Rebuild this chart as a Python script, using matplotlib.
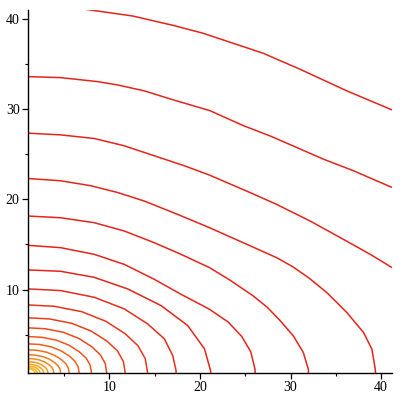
import matplotlib
matplotlib.use("Agg")
import matplotlib.pyplot as plt
from matplotlib.ticker import MultipleLocator

# contour lines, outermost first: (x list, y list)
curve_a_x = [7.42, 12.58, 17.01, 20.34, 23.66, 26.98, 31.04, 36.22, 41.2]
curve_a_y = [41.07, 40.33, 39.30, 38.42, 37.31, 36.20, 34.43, 32.03, 29.92]

curve_b_x = [1, 4.61, 8.67, 10.89, 13.85, 16.79, 21.08, 24.77, 27.72, 30.68, 33.62, 36.95, 41.2]
curve_b_y = [33.61, 33.50, 33.06, 32.69, 32.03, 31.11, 29.84, 28.18, 27.04, 25.75, 24.46, 23.17, 21.32]

curve_c_x = [1, 4.61, 8.31, 11.63, 14.95, 18.28, 21.04, 25.51, 28.46, 32.15, 35.84, 38.80, 41.2]
curve_c_y = [27.34, 27.15, 26.75, 25.94, 24.83, 23.72, 22.69, 20.76, 19.44, 17.60, 15.56, 13.90, 12.43]

curve_d_x = [1, 4.61, 7.93, 10.89, 13.85, 17.53, 21.04, 24.77, 28.46, 30.2, 32.0, 34.0, 36.22, 38.06, 38.98, 39.35, 39.38]
curve_d_y = [22.31, 22.06, 21.51, 20.76, 19.81, 18.33, 16.86, 15.19, 13.53, 12.55, 11.3, 9.66, 7.44, 5.23, 3.38, 1.16, 0.74]

curve_e_x = [1, 4.61, 8.31, 11.63, 14.95, 17.9, 21.04, 23.29, 25.87, 27.4, 28.8, 30.3, 31.41, 31.96, 31.98]
curve_e_y = [18.15, 17.96, 17.41, 16.49, 15.19, 13.9, 12.43, 11.05, 9.29, 8.05, 6.6, 4.86, 3.01, 1.16, 0.74]

curve_f_x = [1, 4.61, 8.31, 11.63, 14.95, 17.9, 21.04, 23.1, 24.6, 25.6, 26.07, 26.08]
curve_f_y = [14.9, 14.64, 13.9, 12.79, 11.13, 9.47, 7.81, 6.4, 4.8, 3.1, 1.16, 0.74]

curve_g_x = [1, 4.61, 8.31, 12.0, 15.69, 18.64, 20.49, 21.16, 21.18]
curve_g_y = [12.17, 12.02, 11.35, 10.07, 8.22, 6.0, 3.42, 1.02, 0.74]

curve_h_x = [1, 4.61, 8.31, 11.63, 14.21, 16.06, 16.98, 17.35, 17.36]
curve_h_y = [10.07, 9.88, 9.14, 7.85, 6.19, 4.53, 2.68, 1.02, 0.74]

curve_i_x = [1, 3.91, 6.94, 9.59, 11.70, 13.15, 13.95, 14.21]
curve_i_y = [8.29, 8.14, 7.54, 6.48, 5.12, 3.76, 2.33, 0.74]

curve_j_x = [1, 3.36, 5.83, 7.98, 9.70, 10.88, 11.53, 11.74]
curve_j_y = [6.86, 6.74, 6.25, 5.39, 4.29, 3.19, 2.03, 0.74]

curve_k_x = [1, 2.91, 4.92, 6.66, 8.05, 9.0, 9.53, 9.7]
curve_k_y = [5.75, 5.65, 5.25, 4.55, 3.65, 2.74, 1.79, 0.74]

curve_l_x = [1, 2.54, 4.15, 5.56, 6.68, 7.45, 7.87, 8.01]
curve_l_y = [4.78, 4.70, 4.38, 3.81, 3.08, 2.36, 1.59, 0.74]

curve_m_x = [1, 2.24, 3.54, 4.67, 5.58, 6.20, 6.54, 6.65]
curve_m_y = [3.97, 3.91, 3.65, 3.19, 2.61, 2.03, 1.42, 0.74]

curve_n_x = [1, 2.0, 3.04, 3.95, 4.68, 5.18, 5.45, 5.54]
curve_n_y = [3.31, 3.26, 3.05, 2.69, 2.23, 1.77, 1.28, 0.74]

curve_o_x = [1, 1.79, 2.62, 3.35, 3.92, 4.32, 4.54, 4.61]
curve_o_y = [2.76, 2.72, 2.56, 2.28, 1.91, 1.55, 1.16, 0.74]

curve_p_x = [1, 1.63, 2.28, 2.85, 3.31, 3.62, 3.79, 3.85]
curve_p_y = [2.34, 2.31, 2.18, 1.96, 1.67, 1.38, 1.08, 0.74]

curve_q_x = [1, 1.48, 1.99, 2.43, 2.78, 3.02, 3.16, 3.2]
curve_q_y = [1.99, 1.97, 1.87, 1.69, 1.47, 1.24, 1.0, 0.74]

curve_r_x = [1, 1.38, 1.77, 2.12, 2.39, 2.58, 2.69, 2.72]
curve_r_y = [1.72, 1.70, 1.62, 1.48, 1.31, 1.13, 0.95, 0.74]

curve_s_x = [1, 1.61, 1.88, 2.09, 2.30, 2.35]
curve_s_y = [1.50, 1.42, 1.32, 1.18, 0.90, 0.74]

curve_t_x = [1, 1.46, 1.67, 1.83, 1.99, 2.03]
curve_t_y = [1.32, 1.26, 1.18, 1.08, 0.86, 0.74]

curve_u_x = [1, 1.35, 1.51, 1.63, 1.76, 1.78]
curve_u_y = [1.18, 1.14, 1.07, 1.0, 0.83, 0.74]

curve_v_x = [1, 1.26, 1.38, 1.47, 1.57, 1.58]
curve_v_y = [1.07, 1.04, 0.99, 0.93, 0.81, 0.74]

curves = [
    (curve_a_x, curve_a_y), (curve_b_x, curve_b_y), (curve_c_x, curve_c_y),
    (curve_d_x, curve_d_y), (curve_e_x, curve_e_y), (curve_f_x, curve_f_y),
    (curve_g_x, curve_g_y), (curve_h_x, curve_h_y), (curve_i_x, curve_i_y),
    (curve_j_x, curve_j_y), (curve_k_x, curve_k_y), (curve_l_x, curve_l_y),
    (curve_m_x, curve_m_y), (curve_n_x, curve_n_y), (curve_o_x, curve_o_y),
    (curve_p_x, curve_p_y), (curve_q_x, curve_q_y), (curve_r_x, curve_r_y),
    (curve_s_x, curve_s_y), (curve_t_x, curve_t_y), (curve_u_x, curve_u_y),
    (curve_v_x, curve_v_y),
]

x_ticks = [10, 20, 30, 40]
y_ticks = [10, 20, 30, 40]

# red outside, turning orange / yellow toward the corner
line_colors = ["#e5241a"] * 7 + ["#e62c1a", "#e8341a", "#ea3e1a", "#ec481a",
                                 "#ee541a", "#f0601a", "#f26c1a", "#f4781a",
                                 "#f6861a", "#f8941a", "#faa21a", "#fcae1a",
                                 "#fdba1a", "#fec41a"]

fig = plt.figure(figsize=(4, 4), dpi=100)
ax = fig.add_axes([0.07, 0.0675, 0.91, 0.9075])

for (cx, cy), col in zip(curves, line_colors):
    ax.plot(cx, cy, color=col, linewidth=1.1, solid_capstyle="butt",
            solid_joinstyle="round")

ax.set_xlim(1, 41.2)
ax.set_ylim(0.74, 41.0)

for side in ["top", "right"]:
    ax.spines[side].set_visible(False)
for side in ["left", "bottom"]:
    ax.spines[side].set_linewidth(1.0)

ax.set_xticks(x_ticks)
ax.set_yticks(y_ticks)
ax.xaxis.set_minor_locator(MultipleLocator(5))
ax.yaxis.set_minor_locator(MultipleLocator(5))
ax.tick_params(which="major", direction="out", length=4, width=0.9,
               labelsize=10, pad=2)
ax.tick_params(which="minor", direction="out", length=2.2, width=0.8)
for lab in ax.get_xticklabels() + ax.get_yticklabels():
    lab.set_family("Liberation Serif")

fig.savefig("out.png", dpi=100)
